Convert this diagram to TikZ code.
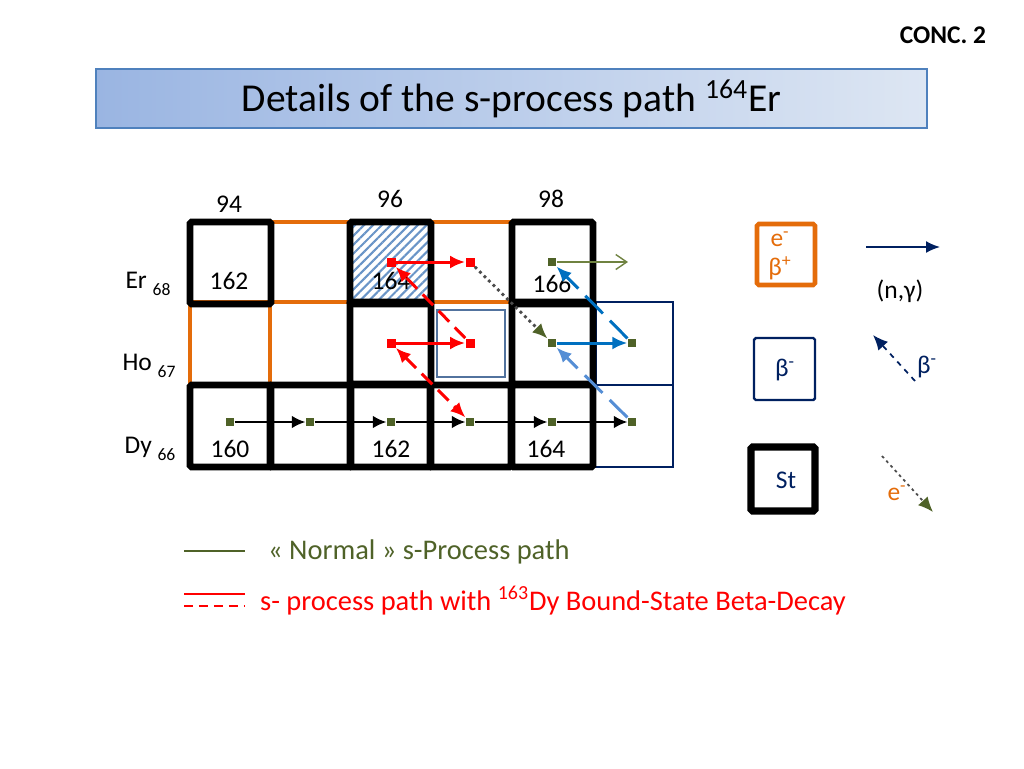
\documentclass[tikz,border=0pt]{standalone}
\usepackage{fontspec}
\setmainfont{Carlito}
\usepackage{tikz}
\usetikzlibrary{arrows.meta,
                patterns.meta,
                positioning}
\definecolor{ecorange}{HTML}{E46C0A}
\definecolor{navyb}{HTML}{002060}
\definecolor{steelb}{HTML}{52739E}
\definecolor{olivemk}{HTML}{4F6228}
\definecolor{olivearr}{HTML}{6F8240}
\definecolor{bluearr}{HTML}{0070C0}
\definecolor{lightarr}{HTML}{558ED5}
\definecolor{redpath}{HTML}{FF0000}
\definecolor{hatchb}{HTML}{4F81BD}
\definecolor{titleleft}{HTML}{9AB5E2}
\definecolor{titleright}{HTML}{DDE6F3}

\begin{document}
\begin{tikzpicture}[x=0.02cm,y=-0.02cm,
            stable/.style={
              draw=black,
              line width=3.9pt,
              rounded corners=1pt
            },
            ecbox/.style={
              draw=ecorange,
              line width=2.3pt
            },
            betabox/.style={
              draw=navyb,
              line width=1.4pt
            },
            nucl/.style={
              fill=olivemk,
              inner sep=0pt,
              minimum size=0.17cm
            },
            rednucl/.style={
              fill=redpath,
              inner sep=0pt,
              minimum size=0.18cm
            },
            ngam/.style={
              draw=black,
              line width=1.1pt,
              -{Latex[length=0.27cm,width=0.25cm]}
            },
            redarr/.style={
              draw=redpath,
              line width=1.7pt,
              -{Latex[length=0.3cm,width=0.26cm]}
            },
            reddash/.style={
              redarr,
              dash pattern=on 0.3cm off 0.16cm
            },
            ecarr/.style={
              draw=black!70,
              line width=1.6pt,
              dotted,
              -{Latex[length=0.3cm,width=0.26cm,fill=olivemk,color=olivemk]}
            },
            lbl/.style={font=\fontsize{14.5}{17}\selectfont},
            leg/.style={font=\fontsize{16.2}{19}\selectfont}
            ]
            \useasboundingbox (0,0) rectangle (1024,768);

            % title
            \node[font=\fontsize{14.5}{17}\selectfont\bfseries] (conc) at (943,35) {CONC. 2};
            \node[draw=hatchb,line width=0.8pt,left color=titleleft,right color=titleright,
              minimum width=16.62cm,minimum height=1.18cm,inner sep=0pt,
              font=\fontsize{22.5}{26}\selectfont] (title) at (511.5,98.5)
              {Details of the s-process path \textsuperscript{164}Er};

            % chart cells
            \draw[ecbox] (270,222) rectangle (350,302);
            \draw[ecbox] (430,222) rectangle (512,302);
            \draw[ecbox] (190,302) rectangle (270,384);
            \draw[ecbox] (270,302) rectangle (350,384);
            \draw[ecbox] (430,302) rectangle (512,384);
            \draw[steelb,line width=1.5pt] (437,310) rectangle (505,377);
            \fill[pattern={Lines[angle=45,distance=3.6pt,line width=1.2pt]},pattern color=hatchb!85]
              (350,222) rectangle (430,302);
            \draw[betabox] (596,302) rectangle (673,385);
            \draw[betabox] (593,385) rectangle (673,467);
            \foreach \cx/\cy in {190/222,350/222,512/222,350/302,512/302,
                                 190/385,270/385,350/385,430/385,512/385}
              \draw[stable] (\cx,\cy) rectangle ++(81,82);

            % neutron numbers and elements
            \node[lbl] (n94) at (229,204) {94};
            \node[lbl] (n96) at (390,199) {96};
            \node[lbl] (n98) at (551,199) {98};
            \node[lbl] (er) at (148,284) {Er \raisebox{-4pt}{\fontsize{10}{12}\selectfont 68}};
            \node[lbl] (ho) at (149,366) {Ho \raisebox{-4pt}{\fontsize{10}{12}\selectfont 67}};
            \node[lbl] (dy) at (150,449) {Dy \raisebox{-4pt}{\fontsize{10}{12}\selectfont 66}};
            \node[lbl] (a162) at (229,281) {162};
            \node[lbl] (a164) at (391,281) {164};
            \node[lbl] (a166) at (552,284) {166};
            \node[lbl] (d160) at (230,449) {160};
            \node[lbl] (d162) at (391,449) {162};
            \node[lbl] (d164) at (546,449) {164};

            % s-process path
            \node[rednucl] (er164) at (391,262) {};
            \node[rednucl] (er165) at (470,262) {};
            \node[nucl] (er166) at (552,262) {};
            \node[rednucl] (ho163) at (391,343) {};
            \node[rednucl] (ho164) at (470,343) {};
            \node[nucl] (ho165) at (552,343) {};
            \node[nucl] (ho166) at (632,343) {};
            \coordinate (er167) at (628,262);
            \foreach \n/\x in {160/230,161/310,162/391,163/470,164/552,165/632}
              \node[nucl] (dy\n) at (\x,422) {};
            \foreach \a/\b in {160/161,161/162,162/163,163/164,164/165}
              \draw[ngam] (dy\a) -- (dy\b);

            \draw[redarr] (er164) -- (er165);
            \draw[redarr] (ho163) -- (ho164);
            \draw[reddash] (ho164) -- (er164);
            \draw[reddash,{Latex[length=0.3cm,width=0.26cm]}-{Latex[length=0.3cm,width=0.26cm]}] (ho163) -- (dy163);
            \draw[ecarr] (er165) -- (ho165);
            \draw[olivearr,line width=0.8pt,-{Straight Barb[length=0.22cm,width=0.3cm]}] (er166) -- (er167);
            \draw[bluearr,line width=1.7pt,-{Latex[length=0.3cm,width=0.26cm]}] (ho165) -- (ho166);
            \draw[bluearr,line width=1.7pt,dash pattern=on 0.5cm off 0.2cm,-{Latex[length=0.3cm,width=0.26cm]}] (ho166) -- (er166);
            \draw[lightarr,line width=1.7pt,dash pattern=on 0.5cm off 0.2cm,-{Latex[length=0.3cm,width=0.26cm]}] (dy165) -- (ho165);

            % legend right
            \draw[ecbox,line width=2.6pt,rounded corners=1pt] (757,224) rectangle (815,285);
            \node[lbl,text=ecorange] (ec) at (780,239) {e\textsuperscript{-}};
            \node[lbl,text=ecorange] (bp) at (780,268) {β\textsuperscript{+}};
            \coordinate (ngs) at (866,247);
            \coordinate (nge) at (940,247);
            \draw[navyb,line width=1pt,-{Latex[length=0.28cm,width=0.24cm]}] (ngs) -- (nge);
            \node[lbl] (ng) at (900,291) {(n,γ)};
            \draw[betabox,rounded corners=1pt] (754,338) rectangle (815,400);
            \node[lbl,text=navyb] (bm) at (785,370) {β\textsuperscript{-}};
            \coordinate (bms) at (915,381);
            \coordinate (bme) at (873,335);
            \draw[navyb,line width=1pt,dashed,-{Latex[length=0.3cm,width=0.26cm]}] (bms) -- (bme);
            \node[lbl,text=navyb] (bml) at (927,367) {β\textsuperscript{-}};
            \draw[stable,line width=4.2pt] (751,447) rectangle (815,511);
            \node[lbl,text=navyb] (st) at (786,480) {St};
            \coordinate (ecs) at (882,456);
            \coordinate (ece) at (933,512);
            \draw[ecarr,line width=1pt] (ecs) -- (ece);
            \node[lbl,text=ecorange] (ecl) at (897,493) {e\textsuperscript{-}};

            % legend bottom
            \draw[olivemk,line width=1.5pt] (184,551) -- (245,551);
            \node[leg,text=olivemk,anchor=west] (normal) at (262,552) {« Normal » s-Process path};
            \draw[redpath,line width=1.5pt] (184,594) -- (245,594);
            \draw[redpath,line width=1.5pt,dash pattern=on 0.18cm off 0.12cm] (184,606) -- (245,606);
            \node[leg,text=redpath,anchor=west] (bsd) at (254,601)
              {s- process path with \textsuperscript{163}Dy Bound-State Beta-Decay};
        \end{tikzpicture}
\end{document}
